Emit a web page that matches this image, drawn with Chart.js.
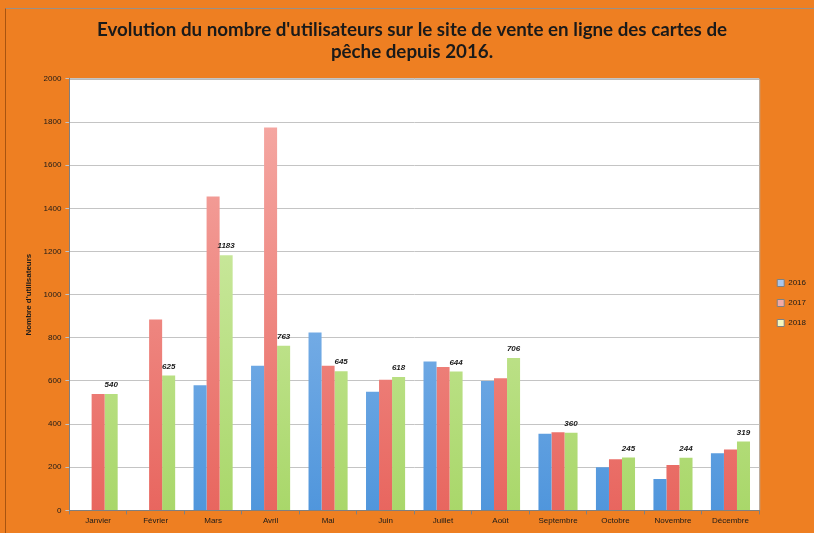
<!DOCTYPE html>
<html>
<head>
<meta charset="utf-8">
<script src="https://cdn.jsdelivr.net/npm/chart.js@4/dist/chart.umd.min.js"></script>
<style>
  html, body { margin: 0; padding: 0; background: #EE7F22; }
  #wrap { position: relative; width: 814px; height: 533px; background: #EE7F22; }
  #frame { position: absolute; left: 5px; top: 8px; width: 809px; height: 525px; border-left: 1px solid #a85410; border-top: 1px solid #9a8f86; box-sizing: border-box; pointer-events: none; }
</style>
</head>
<body>
<div id="wrap">
  <canvas id="c"></canvas>
  <div id="frame"></div>
</div>
<script>
const months = ["Janvier","Février","Mars","Avril","Mai","Juin","Juillet","Août","Septembre","Octobre","Novembre","Décembre"];
const years = ["2016","2017","2018"];
const values2016 = [0, 0, 580, 670, 825, 550, 690, 600, 355, 200, 145, 265];
const values2017 = [540, 885, 1455, 1775, 670, 605, 665, 612, 362, 237, 210, 282];
const values2018 = [540, 625, 1183, 763, 645, 618, 644, 706, 360, 245, 244, 319];
const yTicks = [0, 200, 400, 600, 800, 1000, 1200, 1400, 1600, 1800, 2000];

const palette = [
  { top: "#a3c8f1", bottom: "#5096dc", legend: "#a9c6ec" },
  { top: "#f6aea9", bottom: "#e8665f", legend: "#f2aaa6" },
  { top: "#dbf1b8", bottom: "#a9d76a", legend: "#f4f7c0" }
];

function grad(idx) {
  return function(ctx) {
    const chart = ctx.chart;
    const area = chart.chartArea;
    if (!area) return palette[idx].bottom;
    const g = chart.ctx.createLinearGradient(0, area.top, 0, area.bottom);
    g.addColorStop(0, palette[idx].top);
    g.addColorStop(1, palette[idx].bottom);
    return g;
  };
}

const areaBg = {
  id: "areaBg",
  beforeDraw(chart) {
    const { ctx, chartArea: a } = chart;
    ctx.save();
    ctx.fillStyle = "#ffffff";
    ctx.fillRect(a.left, a.top, a.right - a.left, a.bottom - a.top);
    ctx.strokeStyle = "#b0b0b0";
    ctx.lineWidth = 1;
    ctx.beginPath();
    ctx.moveTo(a.left, a.top + 0.5);
    ctx.lineTo(a.right + 0.5, a.top + 0.5);
    ctx.lineTo(a.right + 0.5, a.bottom);
    ctx.stroke();
    ctx.restore();
  }
};

const boxShift = {
  id: "boxShift",
  afterLayout(chart) {
    const lg = chart.legend;
    if (lg) {
      lg.left += 6; lg.right += 6;
      lg.top += 39; lg.bottom += 39;
    }
    const tb = chart.titleBlock;
    if (tb) { tb.left -= 5; tb.right -= 5; }
  }
};

const valueLabels = {
  id: "valueLabels",
  afterDatasetsDraw(chart) {
    const { ctx } = chart;
    const meta = chart.getDatasetMeta(2);
    ctx.save();
    ctx.font = "italic bold 8px 'Liberation Sans'";
    ctx.fillStyle = "#1a1a1a";
    ctx.textAlign = "center";
    ctx.textBaseline = "bottom";
    meta.data.forEach((el, i) => {
      ctx.fillText(String(values2018[i]), el.x, el.y - 5);
    });
    ctx.restore();
  }
};

new Chart(document.getElementById("c"), {
  type: "bar",
  data: {
    labels: months,
    datasets: [
      { label: years[0], data: values2016, backgroundColor: grad(0) },
      { label: years[1], data: values2017, backgroundColor: grad(1) },
      { label: years[2], data: values2018, backgroundColor: grad(2) }
    ]
  },
  options: {
    responsive: true,
    maintainAspectRatio: false,
    animation: false,
    layout: { padding: { left: 24, right: 4, top: 0, bottom: 5 } },
    datasets: { bar: { categoryPercentage: 0.68, barPercentage: 1.0, borderWidth: 0 } },
    plugins: {
      title: {
        display: true,
        text: ["Evolution du nombre d'utilisateurs sur le site de vente en ligne des cartes de", "pêche depuis 2016."],
        color: "#1a1a1a",
        font: { family: "Lato", size: 18.75, weight: "bold", lineHeight: 1.17 },
        padding: { top: 19, bottom: 16 }
      },
      legend: {
        position: "right",
        align: "center",
        labels: {
          boxWidth: 7,
          boxHeight: 7,
          padding: 12,
          color: "#1a1a1a",
          font: { family: "Liberation Sans", size: 8 },
          generateLabels(chart) {
            return years.map((y, i) => ({
              text: y,
              fillStyle: palette[i].legend,
              strokeStyle: "#808080",
              lineWidth: 1,
              datasetIndex: i,
              hidden: false,
              fontColor: "#1a1a1a"
            }));
          }
        }
      },
      tooltip: { enabled: false }
    },
    scales: {
      x: {
        grid: { display: true, drawOnChartArea: false, offset: true, tickLength: 4, color: "#7f7f7f" },
        border: { display: true, color: "#7f7f7f" },
        ticks: { color: "#1a1a1a", font: { family: "Liberation Sans", size: 8 }, maxRotation: 0, autoSkip: false, padding: 2 }
      },
      y: {
        min: 0,
        max: 2000,
        afterBuildTicks(scale) { scale.ticks = yTicks.map(v => ({ value: v })); },
        grid: { color: "#c4c4c4", lineWidth: 1, tickLength: 4 },
        border: { display: true, color: "#7f7f7f" },
        ticks: { color: "#1a1a1a", font: { family: "Liberation Sans", size: 8 }, padding: 4, callback: (v) => String(v) },
        title: {
          display: true,
          text: "Nombre d'utilisateurs",
          color: "#1a1a1a",
          font: { family: "Liberation Sans", size: 8, weight: "bold" },
          padding: { top: 0, bottom: 6 }
        }
      }
    }
  },
  plugins: [areaBg, boxShift, valueLabels]
});
</script>
</body>
</html>
